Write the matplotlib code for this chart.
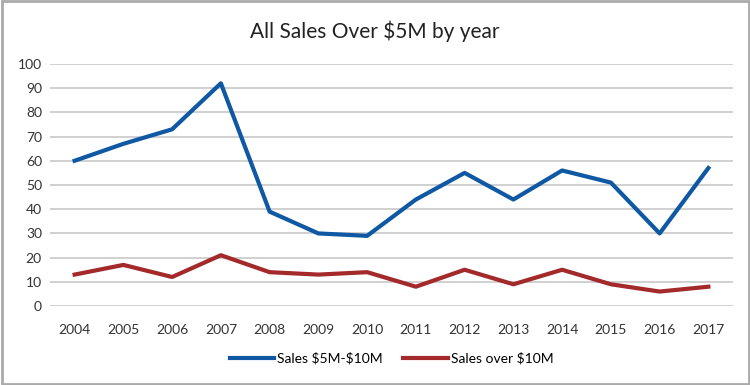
import matplotlib
matplotlib.use('Agg')
import matplotlib.pyplot as plt
from matplotlib.patches import Rectangle

lata = ['2004', '2005', '2006', '2007', '2008', '2009', '2010',
        '2011', '2012', '2013', '2014', '2015', '2016', '2017']
sprzedaz_5_10 = [60, 67, 73, 92, 39, 30, 29, 44, 55, 44, 56, 51, 30, 57]
sprzedaz_10 = [13, 17, 12, 21, 14, 13, 14, 8, 15, 9, 15, 9, 6, 8]

plt.rcParams['font.family'] = ['Lato', 'DejaVu Sans']

fig = plt.figure(figsize=(7.5, 3.85), dpi=100)
ax = fig.add_axes([0.067, 0.205, 0.910, 0.629])

x = range(len(lata))
ax.plot(x, sprzedaz_5_10, color='#0F58A3', lw=3.0, label=r'Sales \$5M-\$10M')
ax.plot(x, sprzedaz_10, color='#A3292B', lw=3.0, label=r'Sales over \$10M')

ax.set_xlim(-0.5, len(lata) - 0.5)
ax.set_ylim(0, 100)
ax.set_yticks(range(0, 101, 10))
ax.set_xticks(list(x))
ax.set_xticklabels(lata)
ax.grid(axis='y', color='#C8C8C8', lw=1.2)
ax.set_axisbelow(True)
for s in ax.spines.values():
    s.set_visible(False)
ax.tick_params(length=0, labelsize=10, colors='#333333')
ax.tick_params(axis='x', pad=13)
ax.tick_params(axis='y', pad=6)

fig.text(0.5, 0.92, r'All Sales Over \$5M by year', ha='center', va='center',
         fontsize=15, color='#222222')
ax.legend(loc='upper center', bbox_to_anchor=(0.5, -0.14), ncol=2, frameon=False,
          fontsize=10, handlelength=3.2, handletextpad=0.2, columnspacing=1.5)

fig.patches.append(Rectangle((0.002, 0.003), 0.996, 0.994, transform=fig.transFigure,
                             fill=False, ec='#AAAAAA', lw=2))

fig.savefig('out.png', dpi=100)
